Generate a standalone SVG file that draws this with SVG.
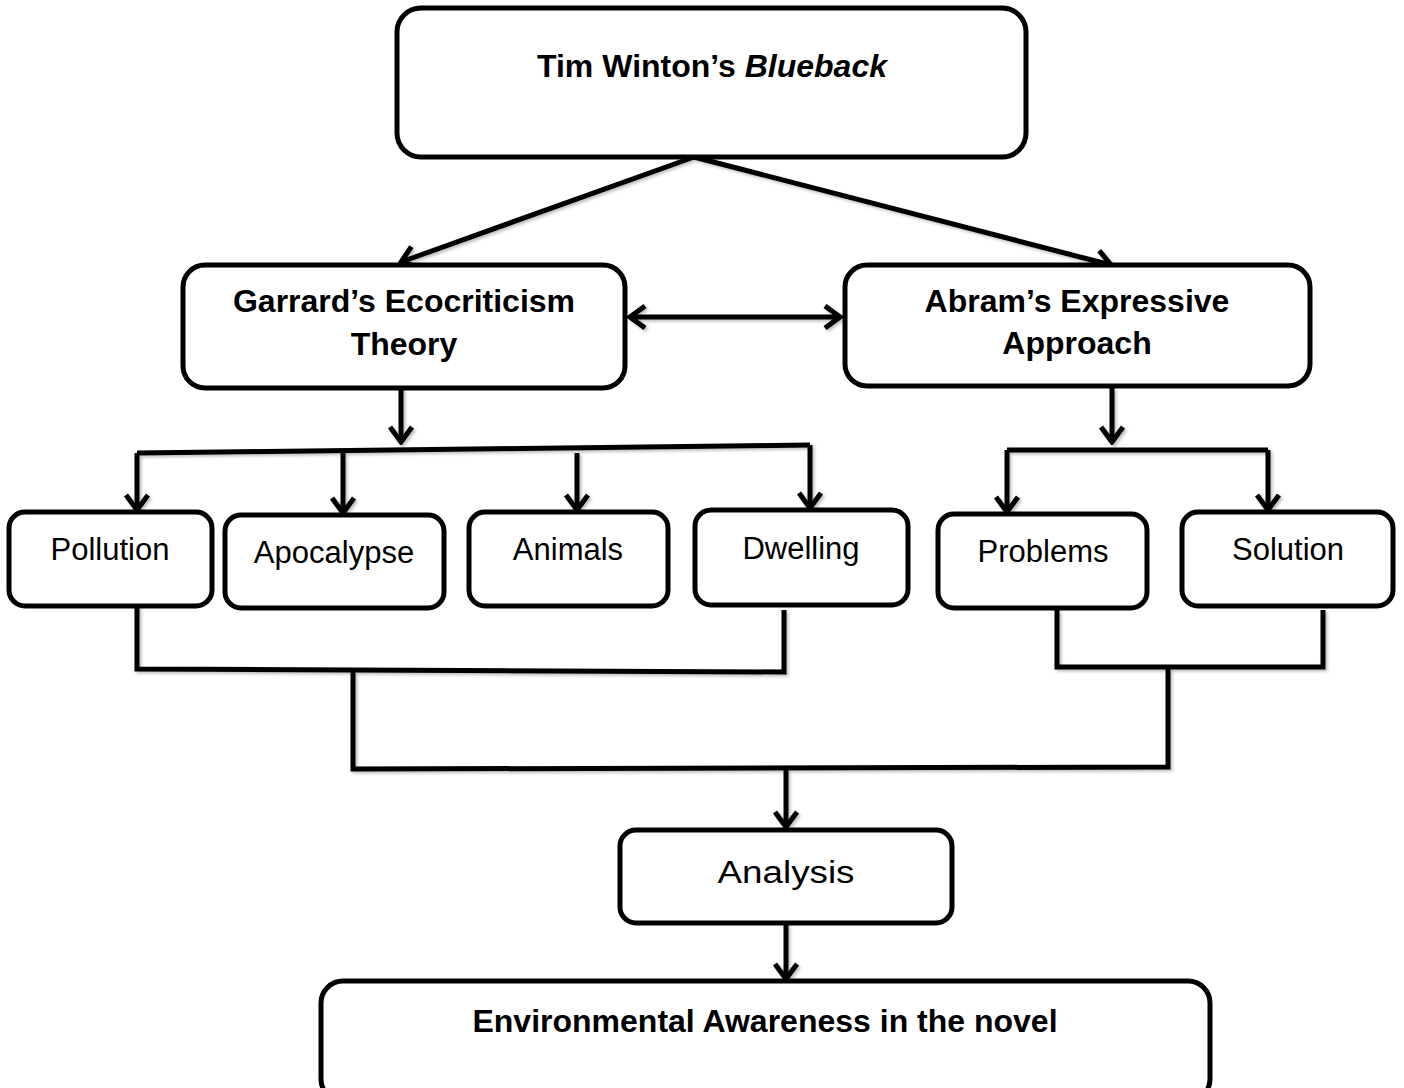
<svg xmlns="http://www.w3.org/2000/svg" width="1404" height="1088" viewBox="0 0 1404 1088">
<style>
.box{fill:#fff;stroke:#000;stroke-width:5}
.c{fill:none;stroke:#000;stroke-width:5;stroke-linejoin:miter}
.a{marker-end:url(#ah)}
.b{font-family:"Liberation Sans",Arial,sans-serif;font-weight:bold;font-size:32px;fill:#000;text-anchor:middle}
.r{font-family:"Liberation Sans",Arial,sans-serif;font-size:31px;fill:#000;text-anchor:middle}
</style>
<defs>
<marker id="ah" markerUnits="userSpaceOnUse" viewBox="-18 -14 21 28" refX="0" refY="0" markerWidth="21" markerHeight="28" orient="auto-start-reverse">
<path d="M-15,-11 L0,0 L-15,11" fill="none" stroke="#000" stroke-width="5"/>
</marker>
<filter id="sh" x="-5%" y="-5%" width="110%" height="110%">
<feDropShadow dx="2" dy="2" stdDeviation="1.5" flood-color="#000" flood-opacity="0.25"/>
</filter>
</defs>
<g id="connectors" filter="url(#sh)">
<path class="c a" d="M694,157 L401,262"/>
<path class="c a" d="M694,157 L1111,265"/>
<path class="c" d="M630,317 L840,317" marker-start="url(#ah)" marker-end="url(#ah)"/>
<path class="c a" d="M401,385 L401,442"/>
<path class="c" d="M137,453 L810,445"/>
<path class="c a" d="M137,453 L137,510"/>
<path class="c a" d="M343,451 L343,513"/>
<path class="c a" d="M577,453 L577,510"/>
<path class="c a" d="M810,445 L810,508"/>
<path class="c a" d="M1112,388 L1112,442"/>
<path class="c" d="M1007,450 L1268,450"/>
<path class="c a" d="M1007,450 L1007,512"/>
<path class="c a" d="M1268,450 L1268,510"/>
<path class="c" d="M137,606 L137,669 L784,672 L784,610"/>
<path class="c" d="M1057,610 L1057,667 L1323,667 L1323,610"/>
<path class="c" d="M353,672 L353,769 L1168,767 L1168,667"/>
<path class="c a" d="M786,768 L786,827"/>
<path class="c a" d="M786,923 L786,979"/>
</g>
<g id="n-blueback"><rect class="box" x="397" y="8" width="629" height="149" rx="24"/>
<text class="b" x="712" y="77">Tim Winton’s <tspan font-style="italic">Blueback</tspan></text></g>
<g id="n-garrard"><rect class="box" x="183" y="265" width="442" height="123" rx="22"/>
<text class="b" x="404" y="312">Garrard’s Ecocriticism</text>
<text class="b" x="404" y="355">Theory</text></g>
<g id="n-abram"><rect class="box" x="845" y="265" width="465" height="121" rx="22"/>
<text class="b" x="1077" y="312">Abram’s Expressive</text>
<text class="b" x="1077" y="354">Approach</text></g>
<g id="n-pollution"><rect class="box" x="9" y="512" width="203" height="94" rx="16"/>
<text class="r" x="110" y="560">Pollution</text></g>
<g id="n-apocalypse"><rect class="box" x="225" y="515" width="219" height="93" rx="16"/>
<text class="r" x="334" y="563">Apocalypse</text></g>
<g id="n-animals"><rect class="box" x="469" y="512" width="199" height="94" rx="16"/>
<text class="r" x="568" y="560">Animals</text></g>
<g id="n-dwelling"><rect class="box" x="695" y="510" width="213" height="95" rx="16"/>
<text class="r" x="801" y="559">Dwelling</text></g>
<g id="n-problems"><rect class="box" x="938" y="514" width="209" height="94" rx="16"/>
<text class="r" x="1043" y="562">Problems</text></g>
<g id="n-solution"><rect class="box" x="1182" y="512" width="211" height="94" rx="16"/>
<text class="r" x="1288" y="560">Solution</text></g>
<g id="n-analysis"><rect class="box" x="620" y="830" width="332" height="93" rx="16"/>
<text class="r" x="786" y="883" font-size="38" textLength="137" lengthAdjust="spacingAndGlyphs">Analysis</text></g>
<g id="n-environment"><rect class="box" x="321" y="981" width="889" height="120" rx="22"/>
<text class="b" x="765" y="1032">Environmental Awareness in the novel</text></g>
</svg>
